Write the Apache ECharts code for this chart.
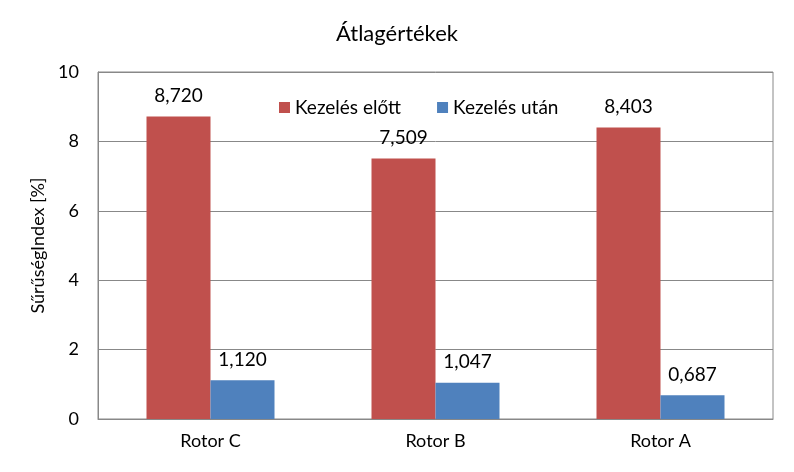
<!DOCTYPE html>
<html><head><meta charset="utf-8">
<script src="https://cdn.jsdelivr.net/npm/echarts@6/dist/echarts.min.js"></script>
<style>html,body{margin:0;padding:0;background:#fff}#c{width:794px;height:472px}</style>
</head><body><div id="c"></div>
<script>
const categories = ['Rotor C', 'Rotor B', 'Rotor A'];
const before = [8.720, 7.509, 8.403];
const after = [1.120, 1.047, 0.687];
const seriesNames = ['Kezelés előtt', 'Kezelés után'];
const yTicks = [0, 2, 4, 6, 8, 10];

const font = 'Lato, "Open Sans", sans-serif';
const fmt = p => p.value.toFixed(3).replace('.', ',');
const chart = echarts.init(document.getElementById('c'));
chart.setOption({
  animation: false,
  title: { text: 'Átlagértékek', left: 'center', top: 18,
    textStyle: { fontFamily: font, fontSize: 22, fontWeight: 'normal', color: '#000' } },
  legend: { data: seriesNames, top: 93, left: 274, itemWidth: 11, itemHeight: 11, itemGap: 36,
    icon: 'rect', textStyle: { fontFamily: font, fontSize: 19, color: '#000' } },
  grid: { left: 98, right: 21, top: 72, bottom: 53, show: true, borderColor: '#888', borderWidth: 1 },
  xAxis: { type: 'category', data: categories,
    axisLine: { lineStyle: { color: '#888' } }, axisTick: { show: false },
    axisLabel: { fontFamily: font, fontSize: 18, color: '#000', margin: 13 } },
  yAxis: { type: 'value', min: yTicks[0], max: yTicks[yTicks.length - 1], interval: 2,
    name: 'SűrűségIndex [%]', nameLocation: 'middle', nameGap: 46,
    nameTextStyle: { fontFamily: font, fontSize: 18, color: '#000' },
    axisLine: { show: true, lineStyle: { color: '#888' } },
    splitLine: { lineStyle: { color: '#888' } },
    axisLabel: { fontFamily: font, fontSize: 18, color: '#000', margin: 19, align: 'right' } },
  series: [
    { name: seriesNames[0], type: 'bar', data: before, barWidth: 64, barGap: 0,
      itemStyle: { color: '#C0504D' },
      label: { show: true, position: 'top', distance: 11, formatter: fmt,
        fontFamily: font, fontSize: 19, color: '#000' } },
    { name: seriesNames[1], type: 'bar', data: after, barWidth: 64,
      itemStyle: { color: '#4F81BD' },
      label: { show: true, position: 'top', distance: 11, formatter: fmt,
        fontFamily: font, fontSize: 19, color: '#000' } }
  ]
});
</script></body></html>
